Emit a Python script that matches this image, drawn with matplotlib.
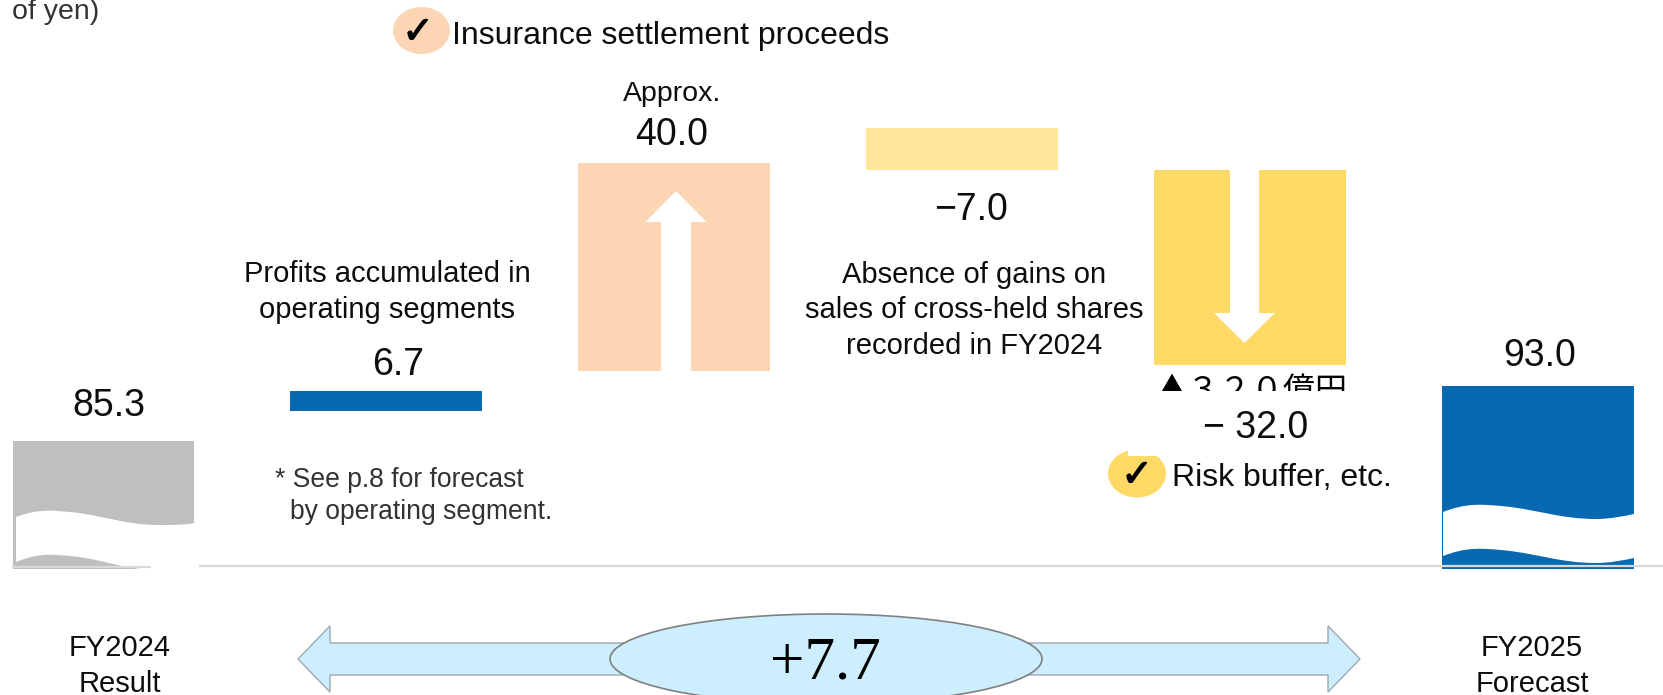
import matplotlib
matplotlib.use('Agg')
import matplotlib.pyplot as plt
import matplotlib.patheffects as pe
from matplotlib.patches import Ellipse, PathPatch, Polygon, Rectangle
from matplotlib.path import Path

categories = ['FY2024\nResult', '', '', '', '', 'FY2025\nForecast']
bar_labels = ['85.3', '6.7', '40.0', '\u22127.0', '\u2212 32.0', '93.0']
bar_left = [13, 290, 578, 866, 1154, 1442]
bar_right = [194, 482, 770, 1058, 1346, 1634]
bar_top = [441, 391, 163, 128, 170, 386]
bar_bottom = [569, 411, 371, 170, 365, 569]
bar_colors = ['#bfbfbf', '#0868b1', '#fcd5b5', '#ffe699', '#ffd966', '#0868b1']
label_x = [109, 398, 672, 971, 1256, 1540]
label_y = [406, 365, 135, 210, 428, 356]
total_change = '+7.7'

plt.rcParams['font.family'] = ['Liberation Sans', 'DejaVu Sans']

W, H = 1663, 695
fig = plt.figure(figsize=(W / 100, H / 100), dpi=100)
ax = fig.add_axes([0, 0, 1, 1])
ax.set_xlim(0, W)
ax.set_ylim(H, 0)
ax.axis('off')


def wave(x0, x1, y_left, y_peak, y_trough, y_right):
    # one s-shaped curve from x0 to x1
    w = x1 - x0
    verts = [(x0, y_left),
             (x0 + w * 0.12, y_peak - 2), (x0 + w * 0.2, y_peak - 1), (x0 + w * 0.33, y_peak + 1.5),
             (x0 + w * 0.5, y_peak + 5), (x0 + w * 0.62, y_trough), (x0 + w * 0.8, y_trough),
             (x0 + w * 0.88, y_trough), (x0 + w * 0.95, y_right + 2), (x1, y_right)]
    return verts


def white_band(x0, x1, top, low):
    upper = wave(x0, x1, *top)
    lower = wave(x0, x1, *low)[::-1]
    verts = upper + [lower[0]] + lower[1:] + [upper[0]]
    codes = [Path.MOVETO] + [Path.CURVE4] * 9 + [Path.LINETO] + [Path.CURVE4] * 9 + [Path.CLOSEPOLY]
    ax.add_patch(PathPatch(Path(verts, codes), fc='white', ec='none', zorder=3))


def white_arrow(points):
    ax.add_patch(Polygon(points, closed=True, fc='white', ec='none', zorder=3))


# bars
for i in range(len(bar_labels)):
    ax.bar(bar_left[i], bar_bottom[i] - bar_top[i], bottom=bar_top[i], width=bar_right[i] - bar_left[i],
           align='edge', color=bar_colors[i], linewidth=0, zorder=2)
    ax.text(label_x[i], label_y[i], bar_labels[i], ha='center', va='center', fontsize=27, color='#0d0d0d', zorder=6)

# waves on first and last bar
white_band(16, 194, (517, 511, 525, 523), (562, 555, 570, 570))
white_band(1443, 1634, (512, 505, 519, 514), (556, 549, 563, 558))
ax.add_patch(Rectangle((150, 560), 55, 10, fc='white', ec='none', zorder=3))
ax.plot([13, 150], [566.5, 566.5], color='#d9d9d9', lw=1.5, zorder=4)
ax.plot([200, W], [566, 566], color='#d9d9d9', lw=1.6, zorder=4)

# white arrows inside the bars
white_arrow([(676, 191), (706.5, 222), (691, 222), (691, 371), (661, 371), (661, 222), (645.5, 222)])
white_arrow([(1230, 170), (1259, 170), (1259, 313), (1275, 313), (1244.5, 343), (1214, 313), (1230, 313)])

# tags with a check mark
ax.add_patch(Ellipse((421.5, 30.5), 57, 47, fc='#fcd5b5', ec='none', zorder=2))
ax.add_patch(Ellipse((1137, 473.5), 58, 48, fc='#ffd966', ec='none', zorder=2))
ax.add_patch(Rectangle((1128, 446), 40, 10, fc='white', ec='none', zorder=3))
for x, y in [(418, 33), (1137, 476)]:
    ax.text(x, y, '\u2713', ha='center', va='center', fontsize=27, family='DejaVu Sans', color='black', zorder=6,
            path_effects=[pe.withStroke(linewidth=0.9, foreground='black')])

ax.text(452, 36, 'Insurance settlement proceeds', ha='left', va='center', fontsize=23, color='#0d0d0d')
ax.text(1172, 478, 'Risk buffer, etc.', ha='left', va='center', fontsize=23, color='#0d0d0d')
ax.text(672, 94, 'Approx.', ha='center', va='center', fontsize=20.5, color='#0d0d0d')
ax.text(387, 292, 'Profits accumulated in\noperating segments', ha='center', va='center', fontsize=21, linespacing=1.33, color='#0d0d0d')
ax.text(974, 310.5, 'Absence of gains on\nsales of cross-held shares\nrecorded in FY2024', ha='center', va='center', fontsize=21, linespacing=1.33, color='#0d0d0d')
ax.text(275, 480, '* See p.8 for forecast', ha='left', va='center', fontsize=19.1, color='#333333')
ax.text(290, 512, 'by operating segment.', ha='left', va='center', fontsize=19.1, color='#333333')
ax.text(99, 12, 'of yen)', ha='right', va='center', fontsize=20.5, color='#333333')

# japanese label cut off by a box in the source slide
jp = ax.text(1251, 391, '\u25b2\uff13\uff12\uff10\u5104\u5186', ha='center', va='center', fontsize=23,
             family=['Noto Sans CJK JP', 'DejaVu Sans'], color='black', zorder=5)
jp.set_clip_on(True)
jp.set_clip_path(Rectangle((1150, 360), 210, 30.5, transform=ax.transData))

# category labels
ax.text(120, 666, categories[0], ha='center', va='center', fontsize=21, linespacing=1.36, color='#0d0d0d')
ax.text(1532, 666, categories[5], ha='center', va='center', fontsize=21, linespacing=1.36, color='#0d0d0d')

# double arrow with the total change
ax.add_patch(Polygon([(298, 659), (330, 626), (330, 643), (1328, 643), (1328, 626), (1360, 659),
                      (1328, 692), (1328, 675), (330, 675), (330, 692)], closed=True,
                     fc='#cceeff', ec='#a0a8b0', lw=1, zorder=2))
ax.add_patch(Ellipse((826, 659), 432, 90, fc='#cceeff', ec='#808080', lw=1.2, zorder=3))
ax.text(825, 664, total_change, ha='center', va='center', fontsize=44, family='Liberation Serif', color='black', zorder=6)

fig.savefig('out.png', dpi=100)
